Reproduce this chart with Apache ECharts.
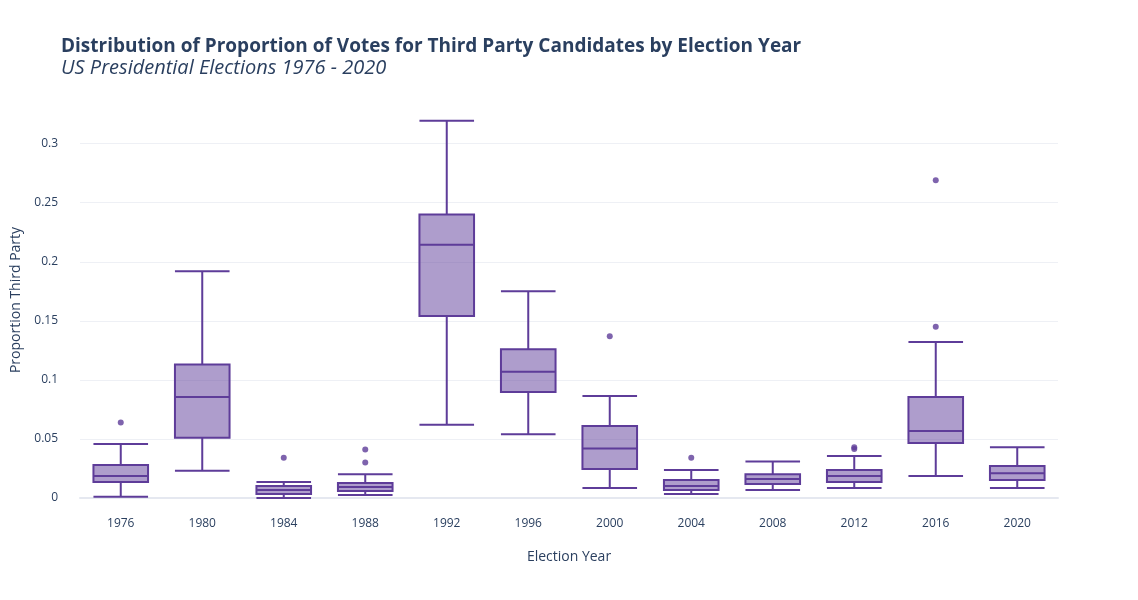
<!DOCTYPE html>
<html>
<head>
<meta charset="utf-8">
<script src="https://cdn.jsdelivr.net/npm/echarts@6/dist/echarts.min.js"></script>
<style>html,body{margin:0;padding:0;background:#fff}#main{width:1138px;height:600px}</style>
</head>
<body>
<div id="main"></div>
<script>
// 选举年份
var years = ['1976', '1980', '1984', '1988', '1992', '1996', '2000', '2004', '2008', '2012', '2016', '2020'];
// [min, q1, median, q3, max]
var boxValues = [
    [0.001, 0.0136, 0.0186, 0.028, 0.0458],
    [0.023, 0.051, 0.0856, 0.113, 0.192],
    [0.0, 0.0034, 0.0068, 0.0102, 0.0136],
    [0.0025, 0.006, 0.0093, 0.0127, 0.020],
    [0.062, 0.154, 0.2144, 0.240, 0.3195],
    [0.054, 0.0898, 0.107, 0.126, 0.175],
    [0.0085, 0.0246, 0.042, 0.061, 0.0864],
    [0.0034, 0.0068, 0.0102, 0.0153, 0.0237],
    [0.0068, 0.0119, 0.016, 0.020, 0.031],
    [0.0085, 0.0136, 0.0186, 0.0237, 0.0356],
    [0.0186, 0.0466, 0.0568, 0.0856, 0.132],
    [0.0085, 0.0153, 0.021, 0.027, 0.043]
];
// 离群点
var outlierYears = ['1976', '1984', '1988', '1988', '2000', '2004', '2012', '2012', '2016', '2016'];
var outlierValues = [0.064, 0.034, 0.041, 0.030, 0.137, 0.034, 0.043, 0.0415, 0.269, 0.145];
// y 轴刻度
var yTicks = [0, 0.05, 0.1, 0.15, 0.2, 0.25, 0.3];

var outliers = outlierYears.map(function (y, i) { return [y, outlierValues[i]]; });

var myChart = echarts.init(document.getElementById('main'));
var option = {
    title: {
        text: 'Distribution of Proportion of Votes for Third Party Candidates by Election Year',
        subtext: 'US Presidential Elections 1976 - 2020',
        left: 56, top: 32,
        itemGap: 2,
        textStyle: {fontFamily: 'Open Sans', fontSize: 19, fontWeight: 'bold', color: '#2a3f5f'},
        subtextStyle: {fontFamily: 'Open Sans', fontSize: 20, fontStyle: 'italic', color: '#2a3f5f'}
    },
    grid: {left: 80, right: 80, top: 100, bottom: 100},
    xAxis: {
        type: 'category',
        data: years,
        name: 'Election Year',
        nameLocation: 'middle',
        nameGap: 50,
        nameTextStyle: {fontFamily: 'Open Sans', fontSize: 14, color: '#2a3f5f'},
        axisLine: {lineStyle: {color: '#e5e8f0', width: 2}},
        axisTick: {show: false},
        axisLabel: {fontFamily: 'Open Sans', fontSize: 12, color: '#2a3f5f', margin: 18}
    },
    yAxis: {
        type: 'value',
        min: -0.0017, max: 0.337,
        name: 'Proportion Third Party',
        nameLocation: 'middle',
        nameGap: 47,
        nameTextStyle: {fontFamily: 'Open Sans', fontSize: 14, color: '#2a3f5f'},
        axisLine: {show: false},
        axisTick: {show: false},
        splitLine: {show: false},
        axisLabel: {
            fontFamily: 'Open Sans', fontSize: 12, color: '#2a3f5f', margin: 22,
            customValues: yTicks,
            formatter: function (v) { return String(Math.round(v * 100) / 100); }
        }
    },
    series: [{
        type: 'boxplot',
        data: boxValues,
        boxWidth: ['67%', '67%'],
        z: 3,
        itemStyle: {color: 'rgba(94,60,153,0.5)', borderColor: '#5e3c99', borderWidth: 2}
    }, {
        type: 'scatter',
        data: outliers,
        symbolSize: 6,
        z: 4,
        itemStyle: {color: '#5e3c99'},
        markLine: {
            silent: true,
            symbol: 'none',
            label: {show: false},
            lineStyle: {color: '#eef0f5', type: 'solid', width: 1},
            z: 1,
            data: yTicks.slice(1).map(function (v) { return {yAxis: v}; })
        }
    }]
};
myChart.setOption(option);
</script>
</body>
</html>
